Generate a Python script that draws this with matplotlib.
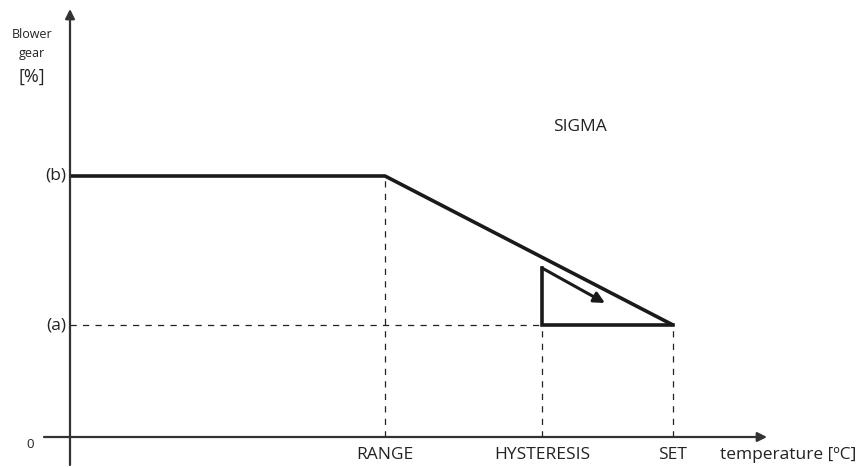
import matplotlib.pyplot as plt

# curve points (abstract units: x = temperature, y = blower gear)
x_names = ["RANGE", "HYSTERESIS", "SET"]
x_pos = [315, 472, 603]
y_names = ["(a)", "(b)"]
y_pos = [112, 261]

curve_x = [0, x_pos[0], x_pos[2]]
curve_y = [y_pos[1], y_pos[1], y_pos[0]]

# hysteresis triangle
tri_top = 169
arrow_end = (535, 134)

plt.rcParams['font.family'] = ['Open Sans', 'DejaVu Sans']

fig = plt.figure(figsize=(8.62, 4.67), dpi=100)
ax = fig.add_axes([0, 0, 1, 1])
ax.set_xlim(-70, 792)
ax.set_ylim(-30, 437)
ax.axis('off')

# axes with arrows
ax.annotate('', xy=(697, 0), xytext=(-26, 0),
            arrowprops=dict(arrowstyle='-|>', color='#333333', lw=1.6,
                            mutation_scale=14, shrinkA=0, shrinkB=0))
ax.annotate('', xy=(0, 428), xytext=(0, -28),
            arrowprops=dict(arrowstyle='-|>', color='#333333', lw=1.6,
                            mutation_scale=14, shrinkA=0, shrinkB=0))

# main curve
ax.plot(curve_x, curve_y, color='#1a1a1a', lw=2.6, solid_capstyle='butt')

# dashed guides
dash = dict(color='#222222', lw=0.9, dashes=(5, 5))
ax.plot([0, x_pos[1]], [y_pos[0], y_pos[0]], **dash)
for xp, top in zip(x_pos, [y_pos[1], y_pos[0], y_pos[0]]):
    ax.plot([xp, xp], [0, top], **dash)

# triangle
ax.plot([x_pos[1], x_pos[1], x_pos[2]], [tri_top, y_pos[0], y_pos[0]],
        color='#1a1a1a', lw=2.6, solid_joinstyle='miter')
ax.annotate('', xy=arrow_end, xytext=(x_pos[1], tri_top),
            arrowprops=dict(arrowstyle='-|>', color='#1a1a1a', lw=2.2,
                            mutation_scale=16, shrinkA=0, shrinkB=0))

# labels
fs = 12.5
for name, xp in zip(x_names, x_pos):
    ax.text(xp, -18, name, ha='center', va='center', fontsize=fs, color='#222222')
ax.text(650, -18, 'temperature [ºC]', ha='left', va='center', fontsize=fs, color='#222222')
for name, yp in zip(y_names, y_pos):
    ax.text(-4, yp, name, ha='right', va='center', fontsize=fs, color='#222222')
ax.text(-40, -8, '0', ha='center', va='center', fontsize=9.5, color='#222222')
ax.text(-38, 402, 'Blower', ha='center', va='center', fontsize=9, color='#222222')
ax.text(-38, 384, 'gear', ha='center', va='center', fontsize=9, color='#222222')
ax.text(-38, 360, '[%]', ha='center', va='center', fontsize=13, color='#222222')
ax.text(510, 310, 'SIGMA', ha='center', va='center', fontsize=fs, color='#222222')

fig.savefig('out.png', dpi=100, facecolor='white')
